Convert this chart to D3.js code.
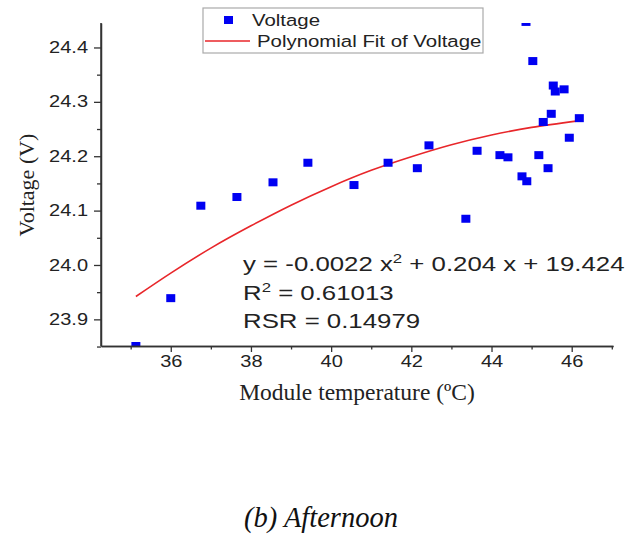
<!DOCTYPE html>
<html><head><meta charset="utf-8">
<script src="https://cdn.jsdelivr.net/npm/d3@7"></script>
<style>body{margin:0;background:#fff}svg{display:block}</style>
</head><body><svg id="c" width="634" height="550"></svg>
<script>
// ---- data ----
const tempC = [35.13,36.0,36.75,37.65,38.55,39.42,40.57,41.42,42.15,42.44,43.36,43.64,44.21,44.41,44.76,44.88,44.86,45.03,45.18,45.29,45.41,45.49,45.54,45.59,45.81,45.94,46.19];
const voltage = [23.851,23.939,24.109,24.125,24.152,24.188,24.147,24.188,24.178,24.22,24.085,24.21,24.202,24.198,24.163,24.154,24.447,24.375,24.202,24.263,24.178,24.278,24.33,24.319,24.323,24.234,24.27];
const fitX = [35.13,36,37,38,39,40,41,42,43,44,45,46.16];
const fitY = [23.942,23.985,24.031,24.072,24.110,24.144,24.174,24.199,24.221,24.239,24.253,24.265];
const xTicks = [36,38,40,42,44,46];
const xMinor = [35,37,39,41,43,45,47];
const yTicks = [23.9,24.0,24.1,24.2,24.3,24.4];
const yMinor = [23.85,23.95,24.05,24.15,24.25,24.35];
const legendLabels = ["Voltage","Polynomial Fit of Voltage"];
const annot = ["y = -0.0022 x", "2", " + 0.204 x + 19.424", "R", "2", " = 0.61013", "RSR = 0.14979"];

const svg = d3.select("#c");
svg.append("rect").attr("width",634).attr("height",550).attr("fill","#fff");
const SANS = "'Liberation Sans', Arial, sans-serif";
const SERIF = "'Liberation Serif', 'Times New Roman', serif";
const SX = 1.25;

const x = d3.scaleLinear().domain([34.26,47.03]).range([101,613]);
const y = d3.scaleLinear().domain([23.851,24.445]).range([346,23]);

svg.append("clipPath").attr("id","pc").append("rect")
  .attr("x",101).attr("y",23).attr("width",512).attr("height",323);

// fit line
const line = d3.line().x((d,i)=>x(fitX[i])).y(d=>y(d)).curve(d3.curveNatural);
svg.append("path").datum(fitY).attr("d",line).attr("fill","none")
  .attr("stroke","#e8262a").attr("stroke-width",1.6);

// points
svg.append("g").attr("clip-path","url(#pc)").selectAll("rect")
  .data(voltage).join("rect")
  .attr("x",(d,i)=>x(tempC[i])-4.5).attr("y",d=>y(d)-4)
  .attr("width",9).attr("height",8).attr("fill","#0000f2");

// axes
const axCol = "#333";
function styleAxis(g){
  g.select(".domain").attr("stroke",axCol).attr("stroke-width",1.5);
  g.selectAll(".tick line").attr("stroke",axCol).attr("stroke-width",1.3);
  g.selectAll("text").attr("fill","#222").style("font-family",SANS).style("font-size","16px");
}
const gx = svg.append("g").attr("transform","translate(0,346)")
  .call(d3.axisBottom(x).tickValues(xTicks).tickSize(6).tickSizeOuter(0).tickPadding(4).tickFormat(d3.format("d")));
styleAxis(gx);
gx.selectAll("text").attr("transform",`scale(${SX},1)`);
const gxm = svg.append("g").attr("transform","translate(0,346)")
  .call(d3.axisBottom(x).tickValues(xMinor).tickSize(3.5).tickSizeOuter(0).tickFormat(""));
styleAxis(gxm);

const gy = svg.append("g").attr("transform","translate(101,0)")
  .call(d3.axisLeft(y).tickValues(yTicks).tickSize(7).tickSizeOuter(0).tickPadding(6).tickFormat(d3.format(".1f")));
styleAxis(gy);
gy.selectAll("text").attr("x",-13/SX).attr("transform",`scale(${SX},1)`);
const gym = svg.append("g").attr("transform","translate(101,0)")
  .call(d3.axisLeft(y).tickValues(yMinor).tickSize(4).tickSizeOuter(0).tickFormat(""));
styleAxis(gym);
gy.select(".domain").attr("d","M0,23V346");

// axis titles
svg.append("text").attr("transform","translate(34,185) rotate(-90)")
  .attr("text-anchor","middle").style("font-family",SERIF).style("font-size","22px")
  .attr("fill","#222").text("Voltage (V)");
svg.append("text").attr("x",357).attr("y",400).attr("text-anchor","middle")
  .style("font-family",SERIF).style("font-size","23.5px").attr("fill","#222")
  .text("Module temperature (ºC)");

// legend
const lg = svg.append("g");
lg.append("rect").attr("x",203).attr("y",8).attr("width",280).attr("height",45)
  .attr("fill","#fff").attr("stroke","#aaa").attr("stroke-width",1.2);
lg.append("rect").attr("x",224).attr("y",16).attr("width",9).attr("height",8).attr("fill","#0000f2");
lg.append("line").attr("x1",205).attr("x2",250).attr("y1",41).attr("y2",41)
  .attr("stroke","#e8262a").attr("stroke-width",1.6);
lg.selectAll("text.lt").data(legendLabels).join("text").attr("class","lt")
  .attr("transform",(d,i)=>`translate(${i?257:252},${i?47:26}) scale(1.2,1)`)
  .style("font-family",SANS).style("font-size","17px").attr("fill","#222").text(d=>d);

// annotation
const an = svg.append("g").style("font-family",SANS).attr("fill","#222");
const t1 = an.append("text").attr("transform",`translate(243,271) scale(1.29,1)`).style("font-size","20px");
t1.append("tspan").text(annot[0]);
t1.append("tspan").attr("dy",-8).style("font-size","13px").text(annot[1]);
t1.append("tspan").attr("dy",8).text(annot[2]);
const t2 = an.append("text").attr("transform",`translate(243,300) scale(1.29,1)`).style("font-size","20px");
t2.append("tspan").text(annot[3]);
t2.append("tspan").attr("dy",-8).style("font-size","13px").text(annot[4]);
t2.append("tspan").attr("dy",8).text(annot[5]);
an.append("text").attr("transform",`translate(243,328) scale(1.29,1)`).style("font-size","20px").text(annot[6]);

// caption
svg.append("text").attr("x",321).attr("y",527).attr("text-anchor","middle")
  .style("font-family",SERIF).style("font-style","italic").style("font-size","28.5px")
  .attr("fill","#111").text("(b) Afternoon");
</script></body></html>
